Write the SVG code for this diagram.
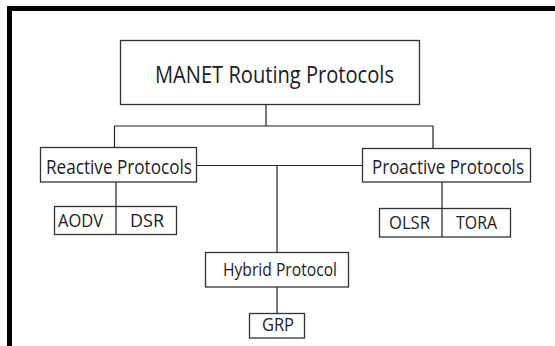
<svg xmlns="http://www.w3.org/2000/svg" width="555" height="346" viewBox="0 0 555 346">
<style>
.box{fill:#fff;stroke:#333;stroke-width:1.3}
.t{font-family:"Open Sans","Liberation Sans",sans-serif;fill:#1c1c28;}
.ln{fill:none;stroke:#222;stroke-width:1.2}
</style>
<rect x="0" y="0" width="555" height="346" fill="#fff"/>
<path d="M9.5 346 V8.5 H555" fill="none" stroke="#000" stroke-width="5"/>
<g id="connectors">
<path class="ln" d="M266 105 V126 M114.5 147 V126 H433 V148"/>
<path class="ln" d="M197 165.5 H362 M277 165.5 V252"/>
<path class="ln" d="M116 182 V234"/>
<path class="ln" d="M442 182 V237"/>
<path class="ln" d="M277 287 V313"/>
</g>
<g id="root">
<rect class="box" x="120.5" y="40.5" width="299" height="64"/>
<text class="t" x="155" y="82.5" font-size="24" textLength="239" lengthAdjust="spacingAndGlyphs">MANET Routing Protocols</text>
</g>
<g id="reactive">
<rect class="box" x="40.5" y="147.5" width="156" height="34.5"/>
<text class="t" x="46" y="174" font-size="20" textLength="146" lengthAdjust="spacingAndGlyphs">Reactive Protocols</text>
</g>
<g id="proactive">
<rect class="box" x="362.5" y="148.5" width="168" height="33.5"/>
<text class="t" x="372" y="174" font-size="20" textLength="152" lengthAdjust="spacingAndGlyphs">Proactive Protocols</text>
</g>
<g id="aodv-dsr">
<rect class="box" x="54.5" y="206.5" width="122" height="28"/>
<line class="ln" x1="116" y1="206" x2="116" y2="234"/>
<text class="t" x="58" y="227" font-size="18" textLength="45" lengthAdjust="spacingAndGlyphs">AODV</text>
<text class="t" x="130" y="227" font-size="18" textLength="34" lengthAdjust="spacingAndGlyphs">DSR</text>
</g>
<g id="olsr-tora">
<rect class="box" x="379.5" y="208.5" width="131" height="28.5"/>
<line class="ln" x1="442" y1="208" x2="442" y2="237"/>
<text class="t" x="389" y="228.5" font-size="18" textLength="41" lengthAdjust="spacingAndGlyphs">OLSR</text>
<text class="t" x="456" y="228.5" font-size="18" textLength="41" lengthAdjust="spacingAndGlyphs">TORA</text>
</g>
<g id="hybrid">
<rect class="box" x="205.5" y="252.5" width="143" height="34.5"/>
<text class="t" x="223" y="275.5" font-size="19" textLength="114" lengthAdjust="spacingAndGlyphs">Hybrid Protocol</text>
</g>
<g id="grp">
<rect class="box" x="249.5" y="313.5" width="55" height="24.5"/>
<text class="t" x="262" y="330.5" font-size="18" textLength="32" lengthAdjust="spacingAndGlyphs">GRP</text>
</g>
</svg>
